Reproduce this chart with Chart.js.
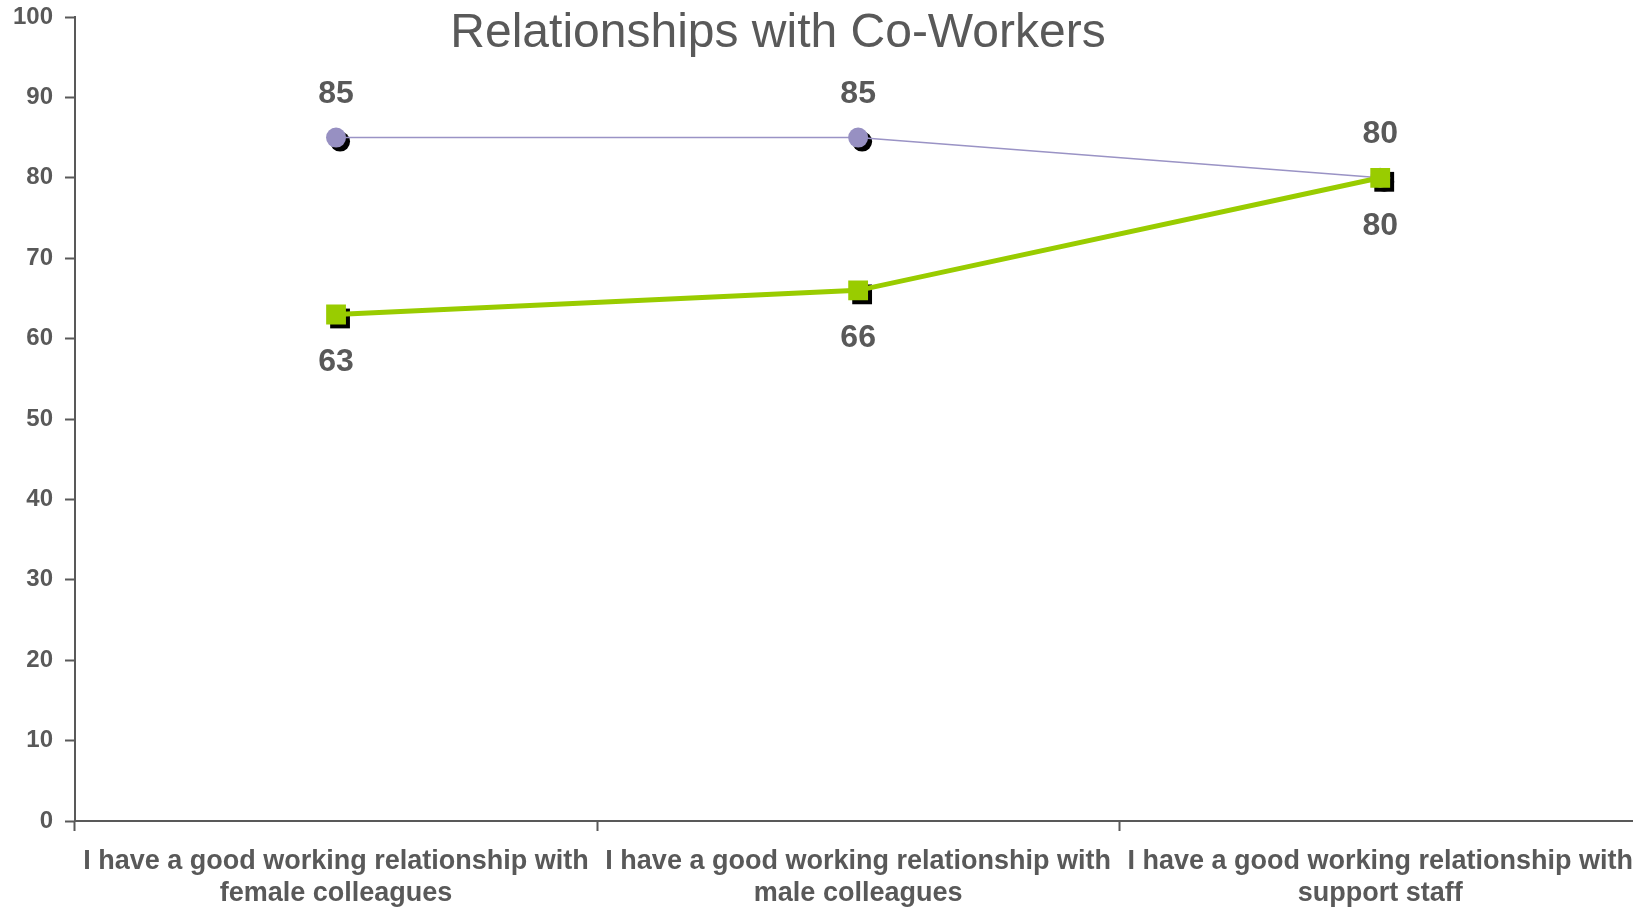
<!DOCTYPE html>
<html>
<head>
<meta charset="utf-8">
<title>Relationships with Co-Workers</title>
<script src="https://cdn.jsdelivr.net/npm/chart.js@4"></script>
<style>
  html, body { margin: 0; padding: 0; background: #fff; overflow: hidden; }
  canvas { display: block; }
</style>
</head>
<body>
<canvas id="myChart" width="1647" height="908"></canvas>
<script>
const ctx = document.getElementById("myChart");

// categories (two lines each) and the two series
const categorias = [
  ["I have a good working relationship with", "female colleagues"],
  ["I have a good working relationship with", "male colleagues"],
  ["I have a good working relationship with", "support staff"],
];
const serieMorada = [85, 85, 80];
const serieVerde = [63, 66, 80];
const ticksY = [0, 10, 20, 30, 40, 50, 60, 70, 80, 90, 100];

const GRIS = "#595959";
const FUENTE = "'Liberation Sans', Arial, sans-serif";

//***************** SOMBRA DE LOS MARCADORES **********/
const sombras = {
  id: "sombras",
  beforeDatasetsDraw(chart) {
    const c = chart.ctx;
    c.save();
    c.fillStyle = "#000";
    chart.data.datasets.forEach((ds, i) => {
      const meta = chart.getDatasetMeta(i);
      meta.data.forEach((p) => {
        c.beginPath();
        if (ds.pointStyle === "circle") {
          c.arc(p.x + 4, p.y + 4, ds.pointRadius, 0, Math.PI * 2);
        } else {
          const s = ds.pointRadius * Math.SQRT1_2;
          c.rect(p.x + 4 - s, p.y + 4 - s, 2 * s, 2 * s);
        }
        c.fill();
      });
    });
    c.restore();
  },
};

//***************** ETIQUETAS DE VALORES **************/
const etiquetas = {
  id: "etiquetas",
  afterDatasetsDraw(chart) {
    const c = chart.ctx;
    c.save();
    c.font = "bold 32px " + FUENTE;
    c.fillStyle = GRIS;
    c.textAlign = "center";
    c.textBaseline = "alphabetic";
    chart.data.datasets.forEach((ds, i) => {
      const meta = chart.getDatasetMeta(i);
      meta.data.forEach((p, j) => {
        const dy = ds.etiqueta === "arriba" ? -35 : 57;
        c.fillText(ds.data[j], p.x, p.y + dy);
      });
    });
    c.restore();
  },
};

//***************** TITULO ****************************/
const titulo = {
  id: "titulo",
  afterDraw(chart) {
    const c = chart.ctx;
    c.save();
    c.font = "48px " + FUENTE;
    c.fillStyle = GRIS;
    c.textAlign = "center";
    c.textBaseline = "alphabetic";
    c.fillText("Relationships with Co-Workers", 778, 47);
    c.restore();
  },
};

new Chart(ctx, {
  type: "line",
  data: {
    labels: categorias,
    datasets: [
      {
        label: "Group A",
        data: serieMorada,
        borderColor: "#9A93C5",
        backgroundColor: "#9A93C5",
        borderWidth: 1.5,
        pointStyle: "circle",
        pointRadius: 10,
        pointBorderWidth: 0,
        pointBackgroundColor: "#9790C2",
        etiqueta: "arriba",
        order: 2,
      },
      {
        label: "Group B",
        data: serieVerde,
        borderColor: "#99CC00",
        backgroundColor: "#99CC00",
        borderWidth: 5,
        pointStyle: "rect",
        pointRadius: 14,
        pointBorderWidth: 0,
        pointBackgroundColor: "#99CC00",
        etiqueta: "abajo",
        order: 1,
      },
    ],
  },
  options: {
    responsive: false,
    animation: false,
    layout: { autoPadding: false, padding: { top: 17, right: 0, left: 0, bottom: 0 } },
    plugins: {
      legend: { display: false },
      tooltip: { enabled: false },
      title: { display: false },
    },
    scales: {
      x: {
        offset: true,
        grid: {
          offset: true,
          drawOnChartArea: false,
          tickLength: 10,
          tickWidth: 2,
          color: GRIS,
        },
        border: { color: GRIS, width: 2 },
        ticks: {
          color: GRIS,
          font: { family: FUENTE, size: 27, weight: "bold", lineHeight: 1.2 },
          padding: 14,
          maxRotation: 0,
          autoSkip: false,
        },
        afterFit(scale) {
          scale.height = 87;
        },
      },
      y: {
        min: 0,
        max: 100,
        afterBuildTicks(scale) {
          scale.ticks = ticksY.map((v) => ({ value: v }));
        },
        grid: {
          drawOnChartArea: false,
          tickLength: 10,
          tickWidth: 2,
          color: GRIS,
        },
        border: { color: GRIS, width: 2 },
        ticks: {
          color: GRIS,
          font: { family: FUENTE, size: 24, weight: "bold" },
          padding: 12,
        },
        afterFit(scale) {
          scale.width = 75;
          scale.paddingTop = 0;
        },
      },
    },
  },
  plugins: [sombras, etiquetas, titulo],
});
</script>
</body>
</html>
